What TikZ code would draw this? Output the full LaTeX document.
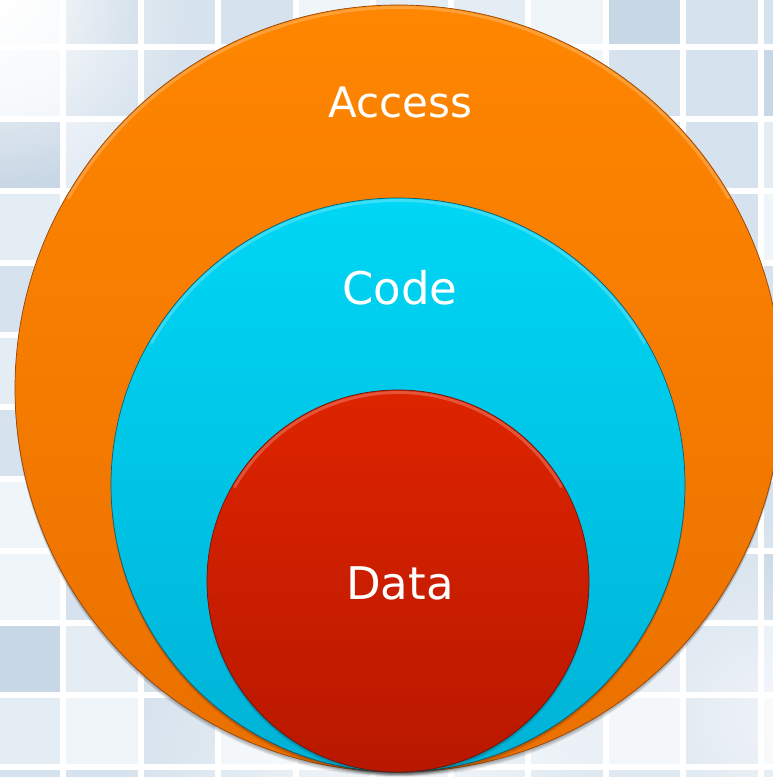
\documentclass[tikz,border=0pt]{standalone}
\usepackage{fontspec}
\setmainfont{DejaVu Sans}
\usetikzlibrary{fadings}
\tikzfading[name=glowfade, inner color=transparent!0, outer color=transparent!100]
\definecolor{tileA}{RGB}{240,245,249}
\definecolor{tileB}{RGB}{228,236,244}
\definecolor{tileC}{RGB}{214,226,237}
\definecolor{tileD}{RGB}{200,215,229}
\definecolor{orgTop}{RGB}{255,134,0}
\definecolor{orgBot}{RGB}{234,112,0}
\definecolor{orgEdge}{RGB}{150,70,10}
\definecolor{cyTop}{RGB}{0,214,245}
\definecolor{cyBot}{RGB}{0,178,214}
\definecolor{cyEdge}{RGB}{20,90,110}
\definecolor{rdTop}{RGB}{222,36,0}
\definecolor{rdBot}{RGB}{184,24,0}
\definecolor{rdEdge}{RGB}{110,20,10}
\tikzset{
  ring/.style={circle, inner sep=0pt, outer sep=0pt, line width=0.7pt},
  lbl/.style={text=white, anchor=base, inner sep=0pt},
  glint/.style={white, opacity=0.22, line width=3pt, line cap=round},
  shadowc/.style={fill=black, opacity=0.07},
}
\begin{document}
\begin{tikzpicture}[x=1pt,y=1pt]
\useasboundingbox (0,0) rectangle (772,777);
% background
\fill[white] (0,0) rectangle (772,777);
\foreach \i in {0,...,10}{
  \foreach \j in {0,...,11}{
    \pgfmathtruncatemacro{\k}{mod(3*\i+5*\j+\i*\j,7)}
    \ifcase\k \def\tc{tileA}\or \def\tc{tileB}\or \def\tc{tileC}\or \def\tc{tileD}\or \def\tc{tileB}\or \def\tc{tileA}\else \def\tc{tileC}\fi
    \pgfmathsetmacro{\xa}{-14.5+77.5*\i+3}
    \pgfmathsetmacro{\xb}{-14.5+77.5*(\i+1)-3}
    \pgfmathsetmacro{\ya}{777-(-25+72*\j)-3}
    \pgfmathsetmacro{\yb}{777-(-25+72*(\j+1))+3}
    \fill[\tc] (\xa,\ya) rectangle (\xb,\yb);
  }
}
\fill[white, path fading=glowfade] (0,777) circle (190);
\fill[white, path fading=glowfade, opacity=0.75] (400,0) circle (280);
\fill[white, path fading=glowfade, opacity=0.6] (772,60) circle (200);
% shadows
\foreach \s in {1,2,3,4,5}{
  \fill[shadowc] (398.5,388.5-\s) circle (383.5);
}
% circles
\node[ring, minimum size=767pt, top color=orgTop, bottom color=orgBot, draw=orgEdge] (access) at (398.5,388.5) {};
\draw[glint] (access.center) ++(150:381) arc[start angle=150, end angle=30, radius=381];
\foreach \s in {1,2,3,4}{
  \fill[shadowc] (398,292-\s) circle (287);
}
\node[ring, minimum size=574pt, top color=cyTop, bottom color=cyBot, draw=cyEdge] (code) at (398,292) {};
\draw[glint] (code.center) ++(150:284.5) arc[start angle=150, end angle=30, radius=284.5];
\foreach \s in {1,2,3,4}{
  \fill[shadowc] (398,196-\s) circle (191);
}
\node[ring, minimum size=382pt, top color=rdTop, bottom color=rdBot, draw=rdEdge] (data) at (398,196) {};
\draw[glint] (data.center) ++(150:188.5) arc[start angle=150, end angle=30, radius=188.5];
% labels
\node[lbl, font=\fontsize{42}{50}\selectfont] (accessLbl) at (400,659) {Access};
\node[lbl, font=\fontsize{45}{54}\selectfont] (codeLbl) at (400,472) {Code};
\node[lbl, font=\fontsize{45}{54}\selectfont] (dataLbl) at (400,177) {Data};
\end{tikzpicture}
\end{document}
